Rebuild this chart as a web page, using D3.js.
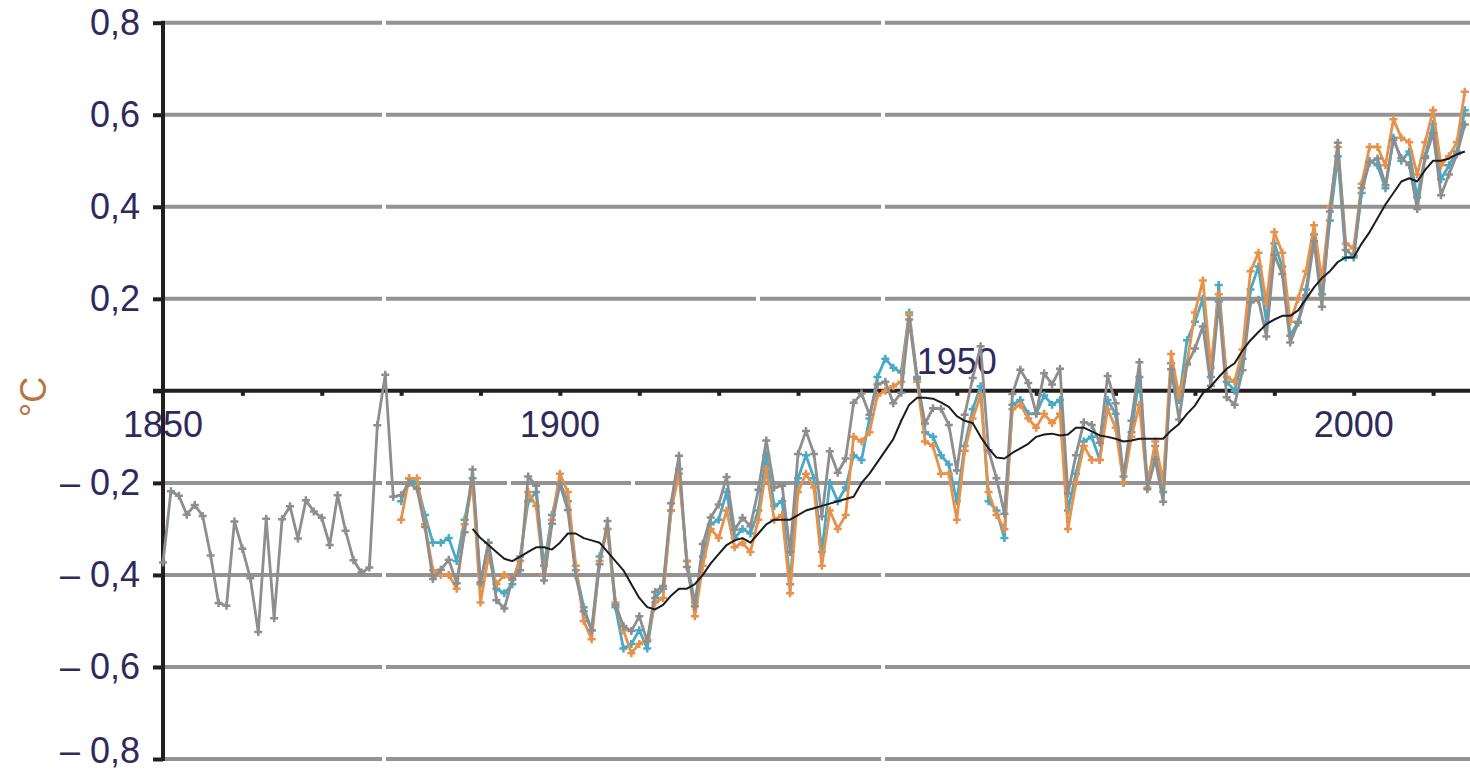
<!DOCTYPE html>
<html>
<head>
<meta charset="utf-8">
<script src="https://cdn.jsdelivr.net/npm/d3@7"></script>
<style>
  html, body { margin: 0; padding: 0; background: #fff; }
  svg { display: block; }
  text { font-family: "Liberation Sans", Arial, sans-serif; }
</style>
</head>
<body>
<svg id="chart" width="1470" height="772"></svg>
<script>
// Global mean surface temperature anomaly, °C, annual values.
const firstYear = 1850;

// Long record from 1850
const seriesGrey = [
  -0.373, -0.218, -0.228, -0.269, -0.248, -0.272, -0.358, -0.461, -0.467, -0.284,
  -0.343, -0.407, -0.524, -0.278, -0.494, -0.279, -0.251, -0.321, -0.238, -0.262,
  -0.276, -0.335, -0.227, -0.304, -0.368, -0.395, -0.384, -0.075, 0.035, -0.230,
  -0.227, -0.200, -0.213, -0.296, -0.409, -0.389, -0.367, -0.418, -0.307, -0.171,
  -0.416, -0.330, -0.455, -0.473, -0.410, -0.390, -0.186, -0.206, -0.412, -0.289,
  -0.203, -0.259, -0.402, -0.479, -0.520, -0.377, -0.283, -0.465, -0.511, -0.522,
  -0.490, -0.544, -0.437, -0.424, -0.244, -0.141, -0.383, -0.468, -0.333, -0.275,
  -0.247, -0.187, -0.302, -0.276, -0.294, -0.215, -0.108, -0.210, -0.206, -0.350,
  -0.137, -0.087, -0.137, -0.273, -0.131, -0.178, -0.147, -0.026, -0.006, -0.052,
  0.014, 0.020, -0.027, -0.004, 0.155, 0.025, -0.071, -0.038, -0.039, -0.074,
  -0.173, -0.052, 0.028, 0.097, -0.129, -0.190, -0.267, -0.007, 0.046, 0.017,
  -0.049, 0.038, 0.014, 0.048, -0.223, -0.140, -0.068, -0.074, -0.113, 0.032,
  -0.027, -0.186, -0.065, 0.062, -0.214, -0.149, -0.241, 0.047, -0.062, 0.057,
  0.092, 0.140, 0.011, 0.194, -0.014, -0.030, 0.045, 0.192, 0.198, 0.118,
  0.296, 0.254, 0.105, 0.148, 0.208, 0.325, 0.183, 0.390, 0.539, 0.306,
  0.294, 0.441, 0.496, 0.505, 0.447, 0.545, 0.506, 0.491, 0.395, 0.506,
  0.560, 0.425, 0.470, 0.514, 0.579
];

// Records starting in 1880
const startOrangeTeal = 1880;
const seriesOrange = [
  -0.28, -0.19, -0.19, -0.29, -0.39, -0.40, -0.40, -0.43, -0.29, -0.20,
  -0.46, -0.36, -0.42, -0.40, -0.41, -0.37, -0.22, -0.25, -0.40, -0.28,
  -0.18, -0.22, -0.38, -0.50, -0.54, -0.37, -0.30, -0.46, -0.52, -0.57,
  -0.55, -0.54, -0.46, -0.45, -0.26, -0.18, -0.37, -0.49, -0.38, -0.30,
  -0.32, -0.26, -0.34, -0.33, -0.35, -0.28, -0.17, -0.28, -0.27, -0.44,
  -0.22, -0.18, -0.21, -0.38, -0.26, -0.30, -0.27, -0.10, -0.11, -0.09,
  -0.01, 0.00, 0.01, 0.02, 0.165, 0.02, -0.11, -0.12, -0.18, -0.18,
  -0.28, -0.13, -0.06, -0.01, -0.22, -0.27, -0.30, -0.04, -0.03, -0.06,
  -0.08, -0.05, -0.07, -0.05, -0.30, -0.20, -0.12, -0.15, -0.15, -0.04,
  -0.08, -0.20, -0.10, -0.03, -0.21, -0.11, -0.20, 0.08, -0.01, 0.06,
  0.17, 0.24, 0.05, 0.21, 0.03, 0.02, 0.09, 0.26, 0.30, 0.19,
  0.345, 0.30, 0.15, 0.20, 0.26, 0.36, 0.24, 0.40, 0.53, 0.32,
  0.31, 0.45, 0.53, 0.53, 0.49, 0.59, 0.55, 0.54, 0.47, 0.54,
  0.61, 0.49, 0.51, 0.54, 0.65
];

const seriesTeal = [
  -0.24, -0.19, -0.20, -0.27, -0.33, -0.33, -0.32, -0.37, -0.28, -0.19,
  -0.42, -0.33, -0.43, -0.44, -0.42, -0.36, -0.24, -0.22, -0.38, -0.27,
  -0.20, -0.24, -0.39, -0.47, -0.52, -0.36, -0.30, -0.47, -0.56, -0.55,
  -0.52, -0.56, -0.45, -0.43, -0.26, -0.17, -0.37, -0.46, -0.36, -0.29,
  -0.28, -0.22, -0.32, -0.30, -0.31, -0.26, -0.14, -0.25, -0.24, -0.42,
  -0.19, -0.14, -0.19, -0.35, -0.20, -0.24, -0.21, -0.14, -0.15, -0.06,
  0.03, 0.07, 0.05, 0.04, 0.17, 0.03, -0.09, -0.10, -0.14, -0.16,
  -0.24, -0.12, -0.04, 0.01, -0.24, -0.26, -0.32, -0.03, -0.02, -0.05,
  -0.05, -0.01, -0.03, -0.02, -0.26, -0.18, -0.11, -0.10, -0.15, -0.02,
  -0.05, -0.20, -0.09, 0.03, -0.20, -0.12, -0.22, 0.06, -0.02, 0.11,
  0.15, 0.20, 0.03, 0.23, 0.02, 0.00, 0.07, 0.22, 0.27, 0.15,
  0.32, 0.27, 0.12, 0.15, 0.22, 0.34, 0.21, 0.37, 0.51, 0.29,
  0.29, 0.43, 0.50, 0.49, 0.44, 0.55, 0.50, 0.52, 0.42, 0.51,
  0.58, 0.46, 0.49, 0.52, 0.61
];

// Smoothed curve from 1889
const startSmooth = 1889;
const seriesSmooth = [
  -0.300, -0.320, -0.335, -0.350, -0.365, -0.370, -0.360, -0.350, -0.340, -0.340,
  -0.345, -0.330, -0.310, -0.310, -0.320, -0.325, -0.330, -0.350, -0.370, -0.390,
  -0.420, -0.450, -0.470, -0.475, -0.465, -0.445, -0.430, -0.430, -0.420, -0.400,
  -0.375, -0.355, -0.335, -0.325, -0.320, -0.330, -0.310, -0.290, -0.280, -0.280,
  -0.280, -0.270, -0.260, -0.255, -0.250, -0.245, -0.240, -0.235, -0.230, -0.200,
  -0.180, -0.155, -0.130, -0.105, -0.065, -0.030, -0.015, -0.015, -0.017, -0.025,
  -0.035, -0.055, -0.065, -0.070, -0.100, -0.125, -0.145, -0.147, -0.135, -0.125,
  -0.115, -0.100, -0.095, -0.093, -0.097, -0.095, -0.080, -0.080, -0.088, -0.097,
  -0.100, -0.104, -0.110, -0.108, -0.104, -0.104, -0.104, -0.104, -0.086, -0.072,
  -0.050, -0.032, -0.005, 0.010, 0.030, 0.048, 0.060, 0.088, 0.110, 0.128,
  0.145, 0.155, 0.163, 0.163, 0.175, 0.200, 0.225, 0.245, 0.260, 0.280,
  0.290, 0.290, 0.320, 0.345, 0.375, 0.405, 0.430, 0.455, 0.462, 0.455,
  0.480, 0.500, 0.500, 0.505, 0.514, 0.520
];

// Axis ticks and labels
const yTicks = [0.8, 0.6, 0.4, 0.2, 0, -0.2, -0.4, -0.6, -0.8];
const yTickLabels = ["0,8", "0,6", "0,4", "0,2", "", "\u2013 0,2", "\u2013 0,4", "\u2013 0,6", "\u2013 0,8"];
const xMinorTicks = [1860, 1870, 1880, 1890, 1900, 1910, 1920, 1930, 1940, 1950, 1960, 1970, 1980, 1990, 2000, 2010];
const xLabelYears = [1850, 1900, 1950, 2000];
const xLabelAbove = [false, false, true, false];
const unitLabel = "°C";

// ---------------------------------------------------------------
const W = 1470, H = 772;
const svg = d3.select("#chart");

const x = d3.scaleLinear().domain([1850, 2014.65]).range([163, 1470]);
const y = d3.scaleLinear().domain([-0.8, 0.8]).range([759, 22.7]);

const toPoints = (start, arr) => arr.map((v, i) => ({ year: start + i, value: v }));
const grey = toPoints(firstYear, seriesGrey);
const orange = toPoints(startOrangeTeal, seriesOrange);
const teal = toPoints(startOrangeTeal, seriesTeal);
const smooth = toPoints(startSmooth, seriesSmooth);

const gridColor = "#939393";
const axisColor = "#231f20";
const labelColor = "#2e2b5c";

// Horizontal grid lines, drawn in segments with hairline breaks
const breaksAll = [384, 883];
const gridG = svg.append("g");
yTicks.filter(t => t !== 0).forEach(t => {
  const extra = t === -0.2 ? [509, 633] : (t === -0.4 || t === 0.2) ? [758] : [];
  const cuts = breaksAll.concat(extra).sort((a, b) => a - b);
  let start = x.range()[0] + 2;
  const segs = [];
  cuts.forEach(c => { segs.push([start, c - 2]); start = c + 2; });
  segs.push([start, x.range()[1]]);
  segs.forEach(s => {
    gridG.append("line")
      .attr("x1", s[0]).attr("x2", s[1])
      .attr("y1", y(t)).attr("y2", y(t))
      .attr("stroke", gridColor).attr("stroke-width", 4);
  });
});

// Y axis
const yAxis = d3.axisLeft(y).tickValues(yTicks).tickSize(10).tickFormat("");
const yAxisG = svg.append("g").attr("transform", `translate(${x.range()[0]},0)`).call(yAxis);
yAxisG.select(".domain").remove();
yAxisG.selectAll(".tick line").attr("stroke", axisColor).attr("stroke-width", 4);
svg.append("line")
  .attr("x1", x.range()[0]).attr("x2", x.range()[0])
  .attr("y1", y(0.8) - 2).attr("y2", y(-0.8) + 2)
  .attr("stroke", axisColor).attr("stroke-width", 4);

// Y tick labels (baseline kept inside the drawing area at the bottom)
svg.append("g").selectAll("text")
  .data(yTicks.map((t, i) => ({ t, label: yTickLabels[i] })).filter(d => d.label))
  .join("text")
  .attr("x", 140)
  .attr("y", d => Math.min(y(d.t) + 12.5, H - 9))
  .attr("text-anchor", "end")
  .attr("font-size", 36)
  .attr("fill", labelColor)
  .text(d => d.label);

// Zero line with decade ticks
const xAxis = d3.axisBottom(x).tickValues(xMinorTicks).tickSize(5).tickFormat("");
const xAxisG = svg.append("g").attr("transform", `translate(0,${y(0)})`).call(xAxis);
xAxisG.select(".domain").remove();
xAxisG.selectAll(".tick line").attr("stroke", axisColor).attr("stroke-width", 4);
svg.append("line")
  .attr("x1", x.range()[0] - 10).attr("x2", W)
  .attr("y1", y(0)).attr("y2", y(0))
  .attr("stroke", axisColor).attr("stroke-width", 4);

// Year labels
svg.append("g").selectAll("text")
  .data(xLabelYears.map((yr, i) => ({ yr, above: xLabelAbove[i] })))
  .join("text")
  .attr("x", d => x(d.yr))
  .attr("y", d => d.above ? y(0) - 17 : y(0) + 46)
  .attr("text-anchor", "middle")
  .attr("font-size", 36)
  .attr("fill", labelColor)
  .text(d => d.yr);

// Unit label
svg.append("text")
  .attr("transform", `translate(46,397) rotate(-90)`)
  .attr("text-anchor", "middle")
  .attr("font-size", 36)
  .attr("fill", "#b8733f")
  .text(unitLabel);

// Series
const line = d3.line().x(d => x(d.year)).y(d => y(d.value));
const cross = "M-4,0H4M0,-4V4";

function drawSeries(data, color, width) {
  const g = svg.append("g");
  g.append("path")
    .datum(data)
    .attr("d", line)
    .attr("fill", "none")
    .attr("stroke", color)
    .attr("stroke-width", width)
    .attr("stroke-linejoin", "round");
  g.selectAll("path.mark")
    .data(data)
    .join("path")
    .attr("class", "mark")
    .attr("d", cross)
    .attr("transform", d => `translate(${x(d.year)},${y(d.value)})`)
    .attr("stroke", color)
    .attr("stroke-width", 2.5);
}

drawSeries(teal, "#4aa9c4", 2.8);
drawSeries(orange, "#e8914b", 2.8);
drawSeries(grey, "#8e8e8e", 2.8);

svg.append("path")
  .datum(smooth)
  .attr("d", line)
  .attr("fill", "none")
  .attr("stroke", "#1c1c1c")
  .attr("stroke-width", 2)
  .attr("stroke-linejoin", "round");
</script>
</body>
</html>
